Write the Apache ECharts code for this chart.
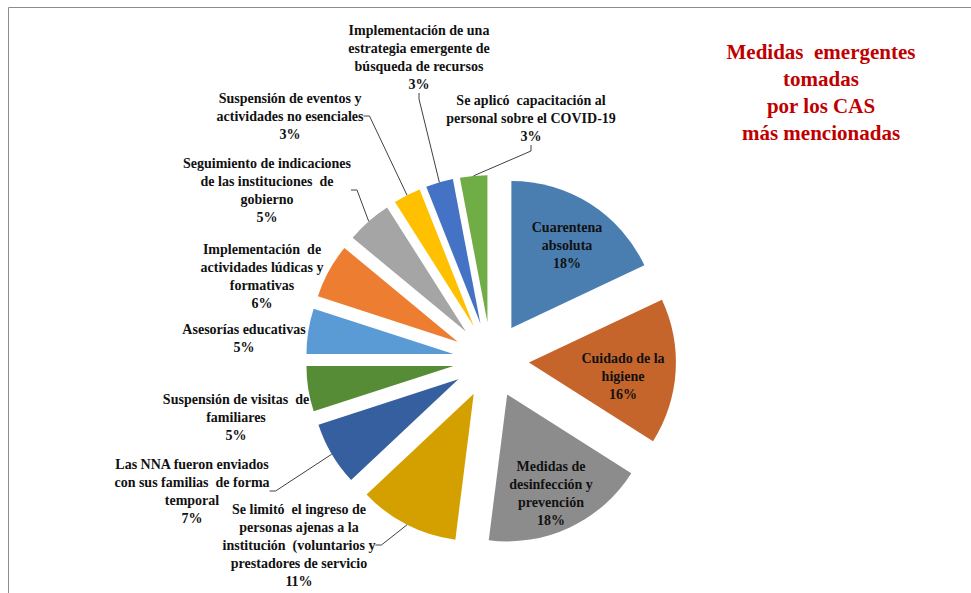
<!DOCTYPE html>
<html>
<head>
<meta charset="utf-8">
<script src="https://cdn.jsdelivr.net/npm/echarts@6/dist/echarts.min.js"></script>
<style>
  html, body { margin: 0; padding: 0; background: #fff; }
  #chartsDiv { width: 971px; height: 593px; }
</style>
</head>
<body>
<div id="chartsDiv"></div>
<script>
// datos (porcentajes), en el orden de las agujas del reloj desde las 12
var categorias = [
  'Cuarentena\nabsoluta',
  'Cuidado de la\nhigiene',
  'Medidas de\ndesinfección y\nprevención',
  'Se limitó  el ingreso de\npersonas ajenas a la\ninstitución  (voluntarios y\nprestadores de servicio',
  'Las NNA fueron enviados\ncon sus familias  de forma\ntemporal',
  'Suspensión de visitas  de\nfamiliares',
  'Asesorías educativas',
  'Implementación  de\nactividades lúdicas y\nformativas',
  'Seguimiento de indicaciones\nde las instituciones  de\ngobierno',
  'Suspensión de eventos y\nactividades no esenciales',
  'Implementación de una\nestrategia emergente de\nbúsqueda de recursos',
  'Se aplicó  capacitación al\npersonal sobre el COVID-19'
]
var porcentajes = [18, 16, 18, 11, 7, 5, 5, 6, 5, 3, 3, 3]
var colores = ['#4a7eb0', '#c5652b', '#8c8c8c', '#d4a000', '#365f9f', '#578c37',
  '#5b9bd5', '#ed7d31', '#a5a5a5', '#ffc000', '#4472c4', '#70ad47']

// posicion de cada etiqueta (centro del bloque de texto)
var posEtiquetas = [
  [567, 245], [623, 376], [551, 493], [299, 545], [192, 491], [236, 417],
  [244, 338], [262, 276], [267, 190], [290, 116], [419, 57], [531, 118]
]
var sinLinea = [0, 1, 2, 5, 6, 7]

var realChart = echarts.init(document.getElementById('chartsDiv'), null, {
  renderer: 'svg'
})

// porciones separadas (explotadas)
var datosPorciones = porcentajes.map(function(v, i) {
  return {
    name: categorias[i],
    value: v,
    selected: true,
    itemStyle: { color: colores[i] }
  }
})

// serie transparente solo para las etiquetas y sus lineas guia
var datosEtiquetas = porcentajes.map(function(v, i) {
  return {
    name: categorias[i],
    value: v,
    itemStyle: { color: 'rgba(0,0,0,0)' },
    labelLine: { show: sinLinea.indexOf(i) < 0 }
  }
})

var option = {
  animation: false,
  backgroundColor: '#fff',
  title: {
    text: 'Medidas  emergentes\ntomadas\npor los CAS\nmás mencionadas',
    left: 821,
    top: 38,
    padding: 0,
    textAlign: 'center',
    textStyle: {
      color: '#c00000',
      fontFamily: 'Liberation Serif',
      fontWeight: 'bold',
      fontSize: 21,
      lineHeight: 27
    }
  },
  graphic: [
    {
      type: 'polyline',
      shape: { points: [[8.5, 593], [8.5, 7.5], [971, 7.5]] },
      style: { stroke: '#8c8c8c', lineWidth: 1, fill: null },
      silent: true
    }
  ],
  series: [
    {
      type: 'pie',
      z: 2,
      center: [491, 360],
      radius: 147,
      startAngle: 90,
      clockwise: true,
      selectedMode: 'multiple',
      selectedOffset: 38,
      silent: true,
      label: { show: false },
      labelLine: { show: false },
      data: datosPorciones
    },
    {
      type: 'pie',
      z: 5,
      center: [491, 360],
      radius: 185,
      startAngle: 90,
      clockwise: true,
      silent: true,
      avoidLabelOverlap: false,
      label: {
        show: true,
        formatter: function(p) {
          return p.name + '\n' + p.value + '%'
        },
        color: '#111',
        fontFamily: 'Liberation Serif',
        fontWeight: 'bold',
        fontSize: 14,
        lineHeight: 18,
        align: 'center'
      },
      labelLine: {
        show: true,
        length: 10,
        length2: 6,
        lineStyle: { color: '#404040', width: 1 }
      },
      labelLayout: function(params) {
        var p = posEtiquetas[params.dataIndex]
        return {
          x: p[0],
          y: p[1],
          align: 'center',
          verticalAlign: 'middle',
          hideOverlap: false
        }
      },
      data: datosEtiquetas
    }
  ]
}

realChart.setOption(option)
</script>
</body>
</html>
